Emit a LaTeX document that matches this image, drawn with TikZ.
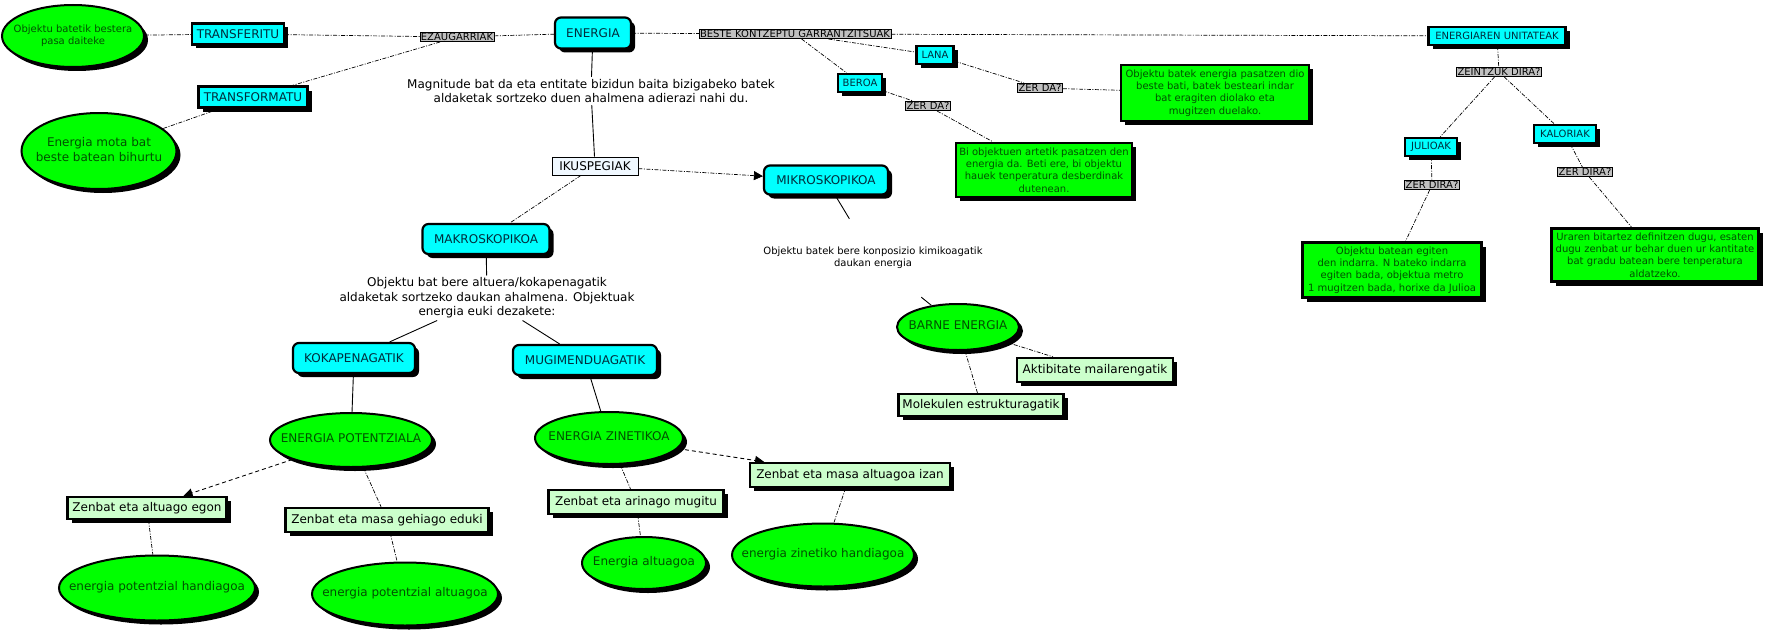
\documentclass[tikz,border=0pt]{standalone}
\usepackage{fontspec}
\setmainfont{DejaVu Sans}
\usetikzlibrary{shapes.geometric,shadows,arrows.meta}
\definecolor{cyanc}{HTML}{00FFFF}
\definecolor{bluetext}{RGB}{0,45,60}
\definecolor{greenc}{HTML}{00FF00}
\definecolor{greentext}{RGB}{0,80,0}
\definecolor{lgreen}{HTML}{CCFFCC}
\definecolor{labgray}{HTML}{C0C0C0}
\definecolor{ikfill}{HTML}{F0F8FF}
\newcommand\myBig{\fontsize{12}{14.5}\selectfont}
\newcommand\mySmall{\fontsize{10}{12.3}\selectfont}
\newcommand\zw[1]{\makebox[0pt]{\begin{tabular}{@{}c@{}}#1\end{tabular}}}
\pgfdeclarelayer{paper}
\pgfdeclarelayer{bg}
\pgfsetlayers{paper,bg,main}
\tikzset{
  shadowed/.style={drop shadow={shadow xshift=4pt,shadow yshift=-4pt,fill=black,opacity=1}},
  concept/.style={rectangle,draw=black,line width=2.2pt,fill=cyanc,text=bluetext,rounded corners=6pt,shadowed,font=\myBig,inner sep=0pt},
  sqconcept/.style={rectangle,draw=black,line width=2.2pt,fill=cyanc,text=bluetext,shadowed,font=\myBig,inner sep=0pt},
  smconcept/.style={sqconcept,font=\mySmall},
  ell/.style={ellipse,draw=black,line width=2pt,fill=greenc,text=greentext,shadowed,font=\myBig,inner sep=0pt},
  gbox/.style={rectangle,draw=black,line width=2.4pt,fill=greenc,text=greentext,shadowed,font=\mySmall,inner sep=0pt,align=center},
  lbox/.style={rectangle,draw=black,line width=2.4pt,fill=lgreen,text=black,shadowed,font=\myBig,inner sep=0pt},
  lab/.style={rectangle,draw=black,line width=0.6pt,fill=labgray,text=black,font=\mySmall,inner xsep=1pt,inner ysep=0.8pt,text height=7.4pt,text depth=0.4pt},
  plain/.style={font=\myBig,align=center,inner sep=2pt},
  ikbox/.style={rectangle,draw=black,line width=0.8pt,fill=ikfill,text=black,font=\myBig,inner sep=0pt},
  dd/.style={draw=black,line width=0.7pt,dash pattern=on 4pt off 1.5pt on 1pt off 1.5pt},
  sl/.style={draw=black,line width=0.9pt},
  dsh/.style={draw=black,line width=0.9pt,dash pattern=on 4pt off 3pt},
  arr/.style={-{Triangle[length=9pt,width=9pt]}}
}
\begin{document}
\begin{tikzpicture}[x=1pt,y=-1pt]
\useasboundingbox (0,0) rectangle (1769,634);
\begin{pgfonlayer}{paper}
\fill[white] (0,0) rectangle (1769,634);
\end{pgfonlayer}
% left
\node[ell,minimum width=142,minimum height=62,font=\mySmall] (e1) at (73,36) {\zw{Objektu batetik bestera\\pasa daiteke}};
\node[sqconcept,minimum width=92,minimum height=21] (transferitu) at (238,34) {TRANSFERITU};
\node[lab] (ezaug) at (457,37) {EZAUGARRIAK};
\node[concept,minimum width=76,minimum height=31] (energia) at (593,33) {ENERGIA};
\node[sqconcept,minimum width=109,minimum height=21] (transformatu) at (253,97) {TRANSFORMATU};
\node[ell,minimum width=155,minimum height=76] (e2) at (99,151) {\zw{Energia mota bat\\beste batean bihurtu}};
\node[plain] (magn) at (591,91) {Magnitude bat da eta entitate bizidun baita bizigabeko batek\\aldaketak sortzeko duen ahalmena adierazi nahi du.};
\node[ikbox,minimum width=86,minimum height=18] (ikus) at (595,166) {IKUSPEGIAK};
\node[concept,minimum width=124,minimum height=29] (mikro) at (826,180) {MIKROSKOPIKOA};
\node[concept,minimum width=127,minimum height=30] (makro) at (486,239) {MAKROSKOPIKOA};
\node[plain] (text2) at (487,298) {Objektu bat bere altuera/kokapenagatik\\aldaketak sortzeko daukan ahalmena. Objektuak\\energia euki dezakete:};
\node[concept,minimum width=122,minimum height=30] (kokap) at (354,358) {KOKAPENAGATIK};
\node[concept,minimum width=144,minimum height=30] (mugim) at (585,360) {MUGIMENDUAGATIK};
\node[ell,minimum width=162,minimum height=54] (epot) at (351,440) {\zw{ENERGIA POTENTZIALA}};
\node[ell,minimum width=148,minimum height=52] (ezin) at (609,438) {\zw{ENERGIA ZINETIKOA}};
\node[lbox,minimum width=159,minimum height=22] (z1) at (147,508) {Zenbat eta altuago egon};
\node[lbox,minimum width=203,minimum height=24] (z2) at (387,520) {Zenbat eta masa gehiago eduki};
\node[ell,minimum width=196,minimum height=65] (e3) at (157,588) {\zw{energia potentzial handiagoa}};
\node[ell,minimum width=186,minimum height=63] (e4) at (405,594) {\zw{energia potentzial altuagoa}};
\node[lbox,minimum width=175,minimum height=24] (z3) at (636,502) {Zenbat eta arinago mugitu};
\node[ell,minimum width=124,minimum height=52] (e5) at (644,563) {\zw{Energia altuagoa}};
\node[lbox,minimum width=200,minimum height=24] (z4) at (850,475) {Zenbat eta masa altuagoa izan};
\node[ell,minimum width=182,minimum height=63] (e6) at (823,555) {\zw{energia zinetiko handiagoa}};
\node[plain,font=\mySmall,minimum width=232,minimum height=78] (text3) at (873,258) {Objektu batek bere konposizio kimikoagatik\\daukan energia};
\node[ell,minimum width=122,minimum height=46] (barne) at (958,327) {\zw{BARNE ENERGIA}};
\node[lbox,minimum width=156,minimum height=24] (akt) at (1095,370) {Aktibitate mailarengatik};
\node[lbox,minimum width=165,minimum height=22] (mol) at (981,405) {Molekulen estrukturagatik};
% right part
\node[lab] (beste) at (795,34) {BESTE KONTZEPTU GARRANTZITSUAK};
\node[smconcept,minimum width=37,minimum height=18] (lana) at (935,55) {LANA};
\node[smconcept,minimum width=44,minimum height=18] (beroa) at (860,83) {BEROA};
\node[lab] (zerda1) at (1040,88) {ZER DA?};
\node[lab] (zerda2) at (928,106) {ZER DA?};
\node[gbox,minimum width=188,minimum height=56] (g1) at (1215,93) {Objektu batek energia pasatzen dio\\beste bati, batek besteari indar\\bat eragiten diolako eta\\mugitzen duelako.};
\node[gbox,minimum width=176,minimum height=54] (g2) at (1044,170) {Bi objektuen artetik pasatzen den\\energia da. Beti ere, bi objektu\\hauek tenperatura desberdinak\\dutenean.};
\node[smconcept,minimum width=137,minimum height=18] (unit) at (1497,36) {ENERGIAREN UNITATEAK};
\node[lab] (zeintzuk) at (1499,72) {ZEINTZUK DIRA?};
\node[smconcept,minimum width=52,minimum height=18] (julioak) at (1431,147) {JULIOAK};
\node[smconcept,minimum width=62,minimum height=18] (kaloriak) at (1565,134) {KALORIAK};
\node[lab] (zerdira1) at (1432,185) {ZER DIRA?};
\node[lab] (zerdira2) at (1585,172) {ZER DIRA?};
\node[gbox,minimum width=179,minimum height=55] (g3) at (1392,270) {Objektu batean egiten\\den indarra. N bateko indarra\\egiten bada, objektua metro\\1 mugitzen bada, horixe da Julioa};
\node[gbox,minimum width=207,minimum height=53] (g4) at (1655,255) {Uraren bitartez definitzen dugu, esaten\\dugu zenbat ur behar duen ur kantitate\\bat gradu batean bere tenperatura\\aldatzeko.};
\begin{pgfonlayer}{bg}
\draw[dd] (e1) -- (transferitu);
\draw[dd] (transferitu) -- (ezaug);
\draw[dd] (ezaug) -- (energia);
\draw[dd] (ezaug) -- (transformatu);
\draw[dd] (transformatu) -- (e2);
\draw[sl] (energia) -- (magn);
\draw[sl] (magn) -- (ikus);
\draw[dd,arr] (ikus) -- (mikro);
\draw[dd] (ikus) -- (makro);
\draw[sl] (makro) -- (text2);
\draw[sl] (text2) -- (kokap);
\draw[sl] (text2) -- (mugim);
\draw[sl] (kokap) -- (epot);
\draw[sl] (mugim) -- (ezin);
\draw[dsh,arr] (epot) -- (z1);
\draw[dd] (epot) -- (z2);
\draw[dd] (z1) -- (e3);
\draw[dd] (z2) -- (e4);
\draw[dd] (ezin) -- (z3);
\draw[dd] (z3) -- (e5);
\draw[dsh,arr] (ezin) -- (z4);
\draw[dd] (z4) -- (e6);
\draw[sl] (mikro) -- (text3);
\draw[sl] (text3) -- (barne);
\draw[dd] (barne) -- (akt);
\draw[dd] (barne) -- (mol);
\draw[dd] (energia) -- (beste);
\draw[dd] (beste) -- (unit);
\draw[dd] (beste) -- (lana);
\draw[dd] (beste) -- (beroa);
\draw[dd] (lana) -- (zerda1);
\draw[dd] (zerda1) -- (g1);
\draw[dd] (beroa) -- (zerda2);
\draw[dd] (zerda2) -- (g2);
\draw[dd] (unit) -- (zeintzuk);
\draw[dd] (zeintzuk) -- (julioak);
\draw[dd] (zeintzuk) -- (kaloriak);
\draw[dd] (julioak) -- (zerdira1);
\draw[dd] (zerdira1) -- (g3);
\draw[dd] (kaloriak) -- (zerdira2);
\draw[dd] (zerdira2) -- (g4);
\end{pgfonlayer}
\end{tikzpicture}
\end{document}
